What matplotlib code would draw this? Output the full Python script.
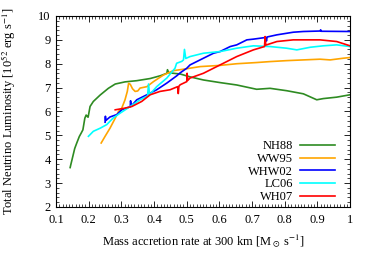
import numpy as np;
import matplotlib;
matplotlib.use("Agg");
import matplotlib.pyplot as plt;
from matplotlib.ticker import MultipleLocator;

# values, (mass accretion rate, luminosity)
nh88_x = [0.143, 0.145, 0.151, 0.157, 0.163, 0.171, 0.177, 0.182, 0.188, 0.192, 0.196, 0.198,
          0.204, 0.214, 0.235, 0.260, 0.281, 0.311, 0.347, 0.388, 0.420, 0.439, 0.441, 0.445,
          0.480, 0.510, 0.551, 0.602, 0.653, 0.714, 0.755, 0.806, 0.857, 0.898, 0.918, 0.959, 1.0];
nh88_y = [3.65, 3.77, 4.11, 4.45, 4.67, 4.95, 5.10, 5.23, 5.72, 5.85, 5.78, 5.76,
          6.21, 6.42, 6.69, 6.97, 7.15, 7.24, 7.29, 7.38, 7.50, 7.60, 7.75, 7.62,
          7.57, 7.45, 7.32, 7.21, 7.11, 6.93, 6.97, 6.87, 6.74, 6.49, 6.54, 6.60, 6.70];

ww95_x = [0.238, 0.250, 0.265, 0.281, 0.291, 0.301, 0.311, 0.318, 0.322, 0.327, 0.334, 0.342,
          0.350, 0.357, 0.378, 0.398, 0.429, 0.459, 0.490, 0.541, 0.602, 0.653, 0.714, 0.755,
          0.806, 0.857, 0.908, 0.939, 0.979, 1.0];
ww95_y = [4.68, 4.96, 5.30, 5.72, 6.00, 6.14, 6.49, 6.84, 7.18, 7.14, 6.95, 6.84,
          6.86, 6.98, 7.04, 7.25, 7.53, 7.71, 7.77, 7.88, 7.93, 8.00, 8.05, 8.09,
          8.13, 8.16, 8.19, 8.16, 8.23, 8.26];

whw02_x = [0.250, 0.251, 0.252, 0.265, 0.286, 0.301, 0.327, 0.328, 0.330, 0.347, 0.378, 0.408,
           0.439, 0.469, 0.480, 0.500, 0.510, 0.551, 0.582, 0.602, 0.633, 0.653, 0.684, 0.704,
           0.742, 0.744, 0.746, 0.776, 0.826, 0.857, 0.908, 0.910, 0.912, 1.0];
whw02_y = [5.55, 5.80, 5.62, 5.77, 5.87, 6.07, 6.20, 6.45, 6.22, 6.49, 6.70, 6.91,
           7.19, 7.49, 7.62, 7.81, 7.95, 8.23, 8.44, 8.51, 8.72, 8.79, 9.00, 9.03,
           9.10, 8.95, 9.12, 9.21, 9.32, 9.35, 9.37, 9.42, 9.36, 9.35];

lc06_x = [0.199, 0.214, 0.235, 0.255, 0.275, 0.296, 0.327, 0.357, 0.380, 0.383, 0.386, 0.408,
          0.439, 0.464, 0.469, 0.485, 0.490, 0.493, 0.497, 0.510, 0.551, 0.602, 0.653, 0.704,
          0.755, 0.806, 0.837, 0.878, 0.918, 0.959, 1.0];
lc06_y = [4.96, 5.17, 5.30, 5.45, 5.73, 5.93, 6.21, 6.49, 6.65, 7.15, 6.70, 7.04,
          7.40, 7.81, 8.02, 8.10, 8.16, 8.60, 8.22, 8.30, 8.44, 8.51, 8.65, 8.75,
          8.72, 8.65, 8.58, 8.69, 8.75, 8.79, 8.72];

wh07_x = [0.281, 0.311, 0.332, 0.362, 0.388, 0.418, 0.449, 0.472, 0.474, 0.476, 0.480, 0.500,
          0.501, 0.503, 0.510, 0.551, 0.602, 0.653, 0.704, 0.738, 0.740, 0.742, 0.776, 0.826,
          0.908, 0.959, 1.0];
wh07_y = [6.07, 6.14, 6.21, 6.42, 6.70, 6.84, 6.91, 7.04, 6.75, 7.06, 7.12, 7.25,
          7.60, 7.30, 7.40, 7.60, 7.95, 8.30, 8.58, 8.72, 9.14, 8.78, 8.93, 9.00,
          9.00, 8.93, 8.75];

labels = ["NH88", "WW95", "WHW02", "LC06", "WH07"];
colors = ["#2e8b22", "#ffa500", "#0000ff", "#00ffff", "#ff0000"];
tick_labels = ["0.1", "0.2", "0.3", "0.4", "0.5", "0.6", "0.7", "0.8", "0.9", "1"];


def main():
    plt.rcParams["font.family"] = "Liberation Serif";
    plt.rcParams["mathtext.fontset"] = "stix";

    fig = plt.figure(figsize=(3.74, 2.62), dpi=100);
    ax = fig.add_axes([0.150, 0.210, 0.786, 0.729]);

    series = [(nh88_x, nh88_y), (ww95_x, ww95_y), (whw02_x, whw02_y),
              (lc06_x, lc06_y), (wh07_x, wh07_y)];
    for (x, y), lab, col in zip(series, labels, colors):
        ax.plot(x, y, color=col, lw=1.2, label=lab);

    ax.set_xlim(0.1, 1.0);
    ax.set_ylim(2, 10);
    ax.set_xticks(np.arange(0.1, 1.01, 0.1));
    ax.set_xticklabels(tick_labels);
    ax.xaxis.set_minor_locator(MultipleLocator(0.01));
    ax.yaxis.set_major_locator(MultipleLocator(1));
    ax.yaxis.set_minor_locator(MultipleLocator(0.2));
    ax.tick_params(which="both", direction="in", top=True, right=True, labelsize=9);
    ax.tick_params(axis="x", pad=5);
    ax.tick_params(axis="y", pad=4);
    ax.tick_params(which="major", length=4, width=0.6);
    ax.tick_params(which="minor", length=2, width=0.5);
    for s in ax.spines.values():
        s.set_linewidth(0.8);

    ax.set_xlabel(r"Mass accretion rate at 300 km [M$_\odot$ s$^{-1}$]", fontsize=9);
    ax.set_ylabel(r"Total Neutrino Luminosity [10$^{52}$ erg s$^{-1}$]", fontsize=9);
    ax.xaxis.set_label_coords(0.5, -0.135);
    ax.yaxis.set_label_coords(-0.13, 0.5);

    ax.legend(loc="lower right", bbox_to_anchor=(0.966, -0.005), borderaxespad=0,
              frameon=False, fontsize=9, markerfirst=False,
              handlelength=2.8, handletextpad=0.55, labelspacing=0.05);

    fig.savefig("out.png", dpi=100);
    plt.close(fig);


if __name__ == "__main__":
    main();
